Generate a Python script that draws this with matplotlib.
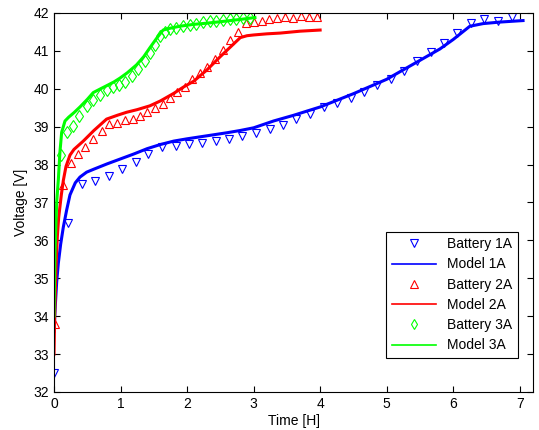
import numpy as np
import matplotlib.pyplot as plt

plt.rcParams['font.family'] = ['Liberation Sans', 'DejaVu Sans']
plt.rcParams['font.size'] = 10

# measured battery voltages (markers)
t_bat1 = [0, 0.21, 0.42, 0.62, 0.82, 1.02, 1.23, 1.42, 1.62, 1.83, 2.03, 2.23, 2.43,
          2.63, 2.83, 3.03, 3.24, 3.44, 3.64, 3.85, 4.06, 4.26, 4.46, 4.66, 4.86,
          5.06, 5.26, 5.46, 5.66, 5.86, 6.06, 6.27, 6.47, 6.68, 6.88]
v_bat1 = [32.5, 36.47, 37.49, 37.58, 37.69, 37.89, 38.08, 38.27, 38.46, 38.5, 38.53,
          38.58, 38.62, 38.67, 38.75, 38.83, 38.95, 39.04, 39.2, 39.33, 39.51, 39.63,
          39.76, 39.92, 40.1, 40.26, 40.48, 40.74, 40.98, 41.22, 41.47, 41.73, 41.85,
          41.8, 41.9]

t_bat2 = [0.015, 0.13, 0.25, 0.36, 0.47, 0.59, 0.72, 0.83, 0.95, 1.07, 1.18, 1.29, 1.4,
          1.52, 1.64, 1.74, 1.85, 1.97, 2.08, 2.19, 2.3, 2.42, 2.54, 2.65, 2.77, 2.88,
          3.0, 3.12, 3.23, 3.35, 3.47, 3.59, 3.71, 3.83, 3.95]
v_bat2 = [33.79, 37.45, 38.05, 38.27, 38.46, 38.68, 38.88, 39.08, 39.1, 39.17, 39.21,
          39.28, 39.39, 39.48, 39.61, 39.75, 39.92, 40.04, 40.25, 40.42, 40.58, 40.78,
          41.03, 41.29, 41.51, 41.74, 41.76, 41.79, 41.83, 41.87, 41.9, 41.88, 41.91,
          41.9, 41.9]

t_bat3 = [0.1, 0.2, 0.28, 0.38, 0.49, 0.59, 0.69, 0.79, 0.89, 0.98, 1.07, 1.17, 1.27,
          1.37, 1.44, 1.52, 1.59, 1.67, 1.75, 1.84, 1.94, 2.04, 2.14, 2.24, 2.34, 2.44,
          2.54, 2.64, 2.74, 2.84, 2.94]
v_bat3 = [38.24, 38.86, 39.01, 39.28, 39.54, 39.7, 39.83, 39.97, 40.04, 40.1, 40.19,
          40.34, 40.51, 40.72, 40.94, 41.16, 41.38, 41.51, 41.58, 41.6, 41.65, 41.68,
          41.72, 41.75, 41.78, 41.8, 41.82, 41.84, 41.85, 41.86, 41.87]

# model curves
t_mod1 = [0, 0.02, 0.04, 0.065, 0.1, 0.14, 0.19, 0.24, 0.32, 0.39, 0.49, 0.6, 0.8, 1.0,
          1.2, 1.4, 1.6, 1.8, 2.0, 2.3, 2.6, 2.8, 3.0, 3.3, 3.6, 4.0, 4.5, 5.0, 5.2,
          5.5, 5.8, 6.0, 6.25, 6.45, 6.7, 7.05]
v_mod1 = [33.6, 34.3, 34.9, 35.4, 35.9, 36.35, 36.8, 37.2, 37.52, 37.67, 37.8, 37.88,
          38.02, 38.15, 38.28, 38.42, 38.53, 38.62, 38.68, 38.76, 38.84, 38.9, 38.97,
          39.15, 39.3, 39.52, 39.87, 40.25, 40.45, 40.75, 41.05, 41.3, 41.65, 41.72,
          41.76, 41.8]

t_mod2 = [0, 0.01, 0.03, 0.05, 0.07, 0.09, 0.11, 0.14, 0.18, 0.24, 0.3, 0.44, 0.6, 0.79,
          0.95, 1.09, 1.25, 1.44, 1.6, 1.8, 1.95, 2.1, 2.3, 2.5, 2.65, 2.8, 2.9, 3.0,
          3.2, 3.4, 3.7, 4.0]
v_mod2 = [33.0, 34.0, 35.3, 36.1, 36.6, 36.9, 37.2, 37.58, 37.95, 38.25, 38.4, 38.62,
          38.9, 39.2, 39.3, 39.38, 39.45, 39.55, 39.68, 39.88, 40.05, 40.2, 40.5, 40.85,
          41.1, 41.35, 41.4, 41.42, 41.45, 41.47, 41.52, 41.55]

t_mod3 = [0, 0.015, 0.04, 0.065, 0.09, 0.115, 0.165, 0.22, 0.3, 0.39, 0.5, 0.59, 0.7,
          0.79, 0.9, 0.99, 1.1, 1.24, 1.35, 1.44, 1.55, 1.64, 1.75, 1.89, 2.1, 2.29,
          2.5, 2.8, 3.02]
v_mod3 = [34.0, 35.7, 37.0, 37.6, 38.35, 38.85, 39.15, 39.25, 39.37, 39.52, 39.72,
          39.9, 40.0, 40.08, 40.18, 40.28, 40.42, 40.63, 40.85, 41.08, 41.35, 41.55,
          41.6, 41.65, 41.7, 41.73, 41.77, 41.83, 41.88]

fig = plt.figure(figsize=(5.39, 4.30), dpi=100)
ax = fig.add_axes([0.1002, 0.0884, 0.8887, 0.8814])

ax.plot(t_bat1, v_bat1, 'v', color='b', mfc='none', ms=6, mew=0.8, label='Battery 1A')
ax.plot(t_mod1, v_mod1, '-', color='b', lw=2.2, label='Model 1A')
ax.plot(t_bat2, v_bat2, '^', color='r', mfc='none', ms=6, mew=0.8, label='Battery 2A')
ax.plot(t_mod2, v_mod2, '-', color='r', lw=2.2, label='Model 2A')
ax.plot(t_bat3, v_bat3, 'd', color=(0, 1, 0), mfc='none', ms=6, mew=0.8, label='Battery 3A')
ax.plot(t_mod3, v_mod3, '-', color=(0, 1, 0), lw=2.2, label='Model 3A')

ax.set_xlim(0, 7.2)
ax.set_ylim(32, 42)
ax.set_xticks(range(0, 8))
ax.set_yticks(range(32, 43))
ax.tick_params(direction='in', top=True, right=True, length=4)
for s in ax.spines.values():
    s.set_linewidth(0.8)

ax.set_xlabel('Time [H]', labelpad=2)
ax.set_ylabel('Voltage [V]', labelpad=4)

leg = ax.legend(loc='lower right', bbox_to_anchor=(0.969, 0.0897), numpoints=1,
                handlelength=3.2, fancybox=False, framealpha=1, edgecolor='k',
                borderaxespad=0, labelspacing=0.45, markerscale=0.9)
leg.get_frame().set_linewidth(0.8)
# thin legend lines like the original
for h in leg.get_lines():
    h.set_linewidth(1.2)

fig.savefig('out.png', dpi=100)
